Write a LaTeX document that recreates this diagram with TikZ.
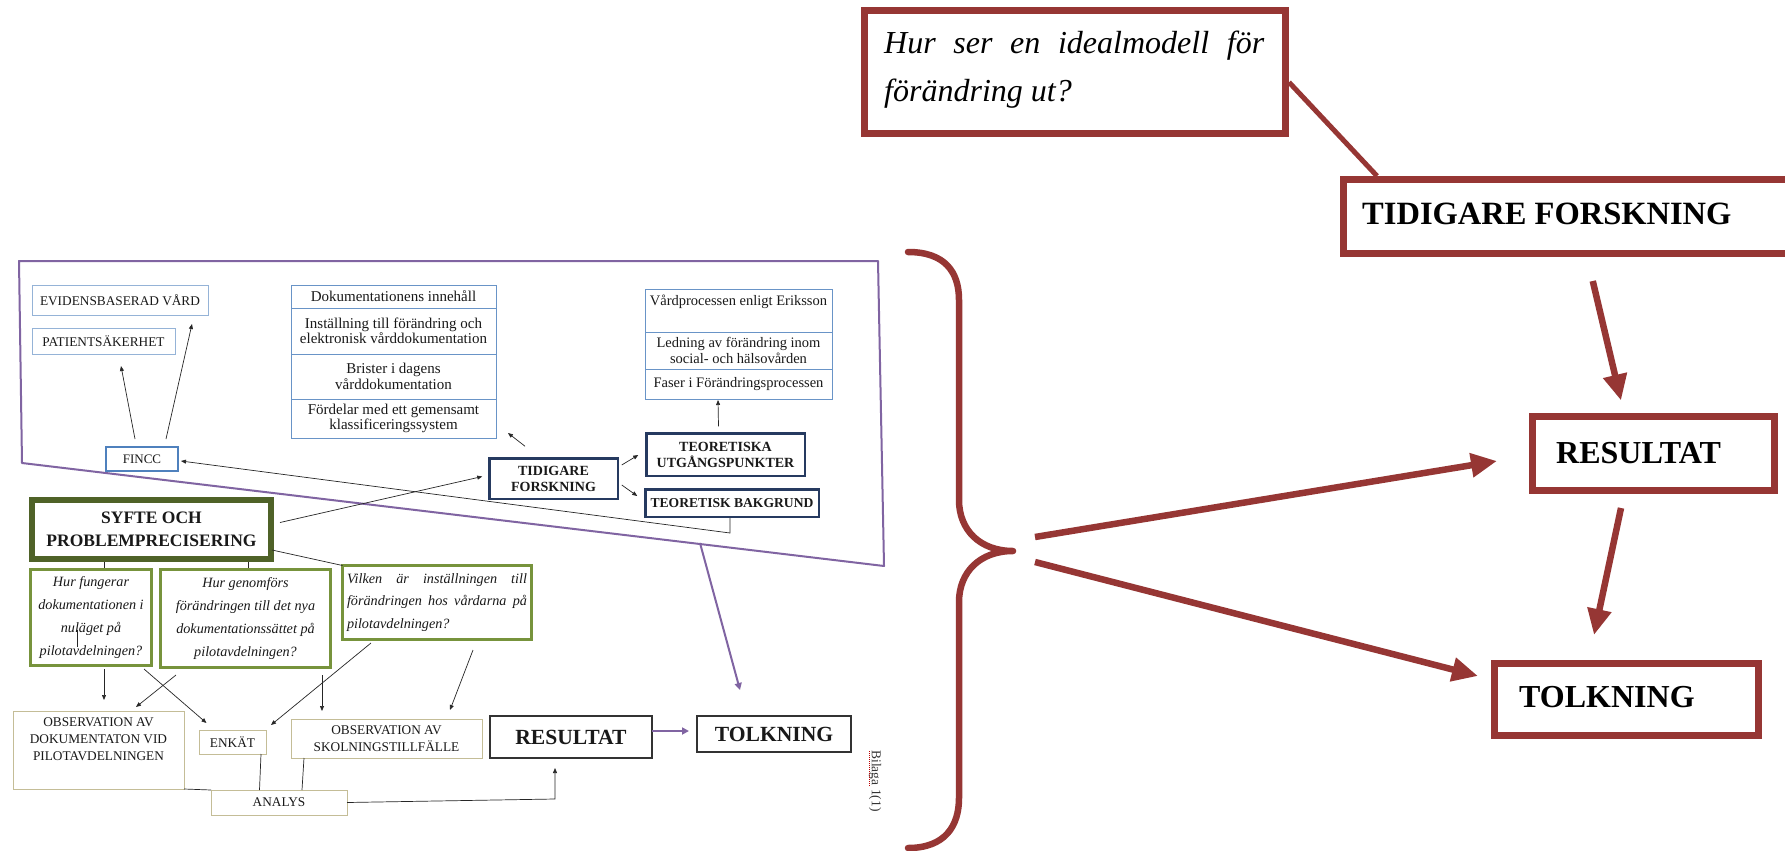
\documentclass[tikz,border=0pt]{standalone}
\usepackage{fontspec}
\setmainfont{Liberation Serif}
\usetikzlibrary{arrows.meta,calc}
\definecolor{dred}{RGB}{150,54,52}
\definecolor{purp}{RGB}{128,100,162}
\definecolor{lblue}{RGB}{149,179,215}
\definecolor{mblue}{RGB}{79,129,189}
\definecolor{navy}{RGB}{38,58,96}
\definecolor{olived}{RGB}{79,98,40}
\definecolor{olivel}{RGB}{119,147,60}
\definecolor{khaki}{RGB}{196,189,151}
\newcommand{\setfs}[2]{\fontsize{#1}{#2}\selectfont}
\newcommand{\boxat}[7]{\node[#6,minimum width={(#4)-(#2)},minimum height={(#5)-(#3)}] (#1) at ({((#2)+(#4))/2},{((#3)+(#5))/2}) {#7};}
\begin{document}
\begin{tikzpicture}[x=1pt,y=-1pt,
 bx/.style={draw,inner sep=0pt,outer sep=0pt,align=center,text=black!90},
 lbox/.style={bx,draw=lblue,line width=0.9pt,font=\setfs{13.3}{16}},
 tbox/.style={bx,draw=mblue!85,line width=1pt,font=\setfs{15}{15.5}},
 rtbox/.style={bx,draw=mblue!85,line width=1pt,font=\setfs{14.5}{15.5}},
 fbox/.style={bx,draw=mblue,line width=2pt,font=\setfs{13}{16}},
 nbox/.style={bx,draw=navy,line width=2.5pt,font=\bfseries\setfs{14}{16}},
 sbox/.style={bx,draw=olived,line width=6pt,font=\bfseries\setfs{17.5}{23.3}},
 qbox/.style={bx,draw=olivel,line width=3pt,font=\itshape\setfs{14.2}{22.9}},
 kbox/.style={bx,draw=khaki,line width=1pt,font=\setfs{13.3}{16.5}},
 bbox/.style={bx,draw=black!80,line width=1.3pt,font=\bfseries\setfs{21.6}{24}},
 rbox/.style={bx,draw=dred,line width=7pt},
 arr/.style={-{Triangle[length=5pt,width=4pt]},line width=0.7pt,black!85},
 ln/.style={line width=0.7pt,black!85},
 parr/.style={-{Triangle[length=7pt,width=7pt]},line width=2pt,purp},
 rarr/.style={-{Triangle[length=26pt,width=23pt]},line width=6.5pt,dred},
]
\useasboundingbox (0,0) rectangle (1785,851);
\fill[white] (0,0) rectangle (1785,851);

% ---------- left diagram ----------
\draw[purp,line width=2pt,line join=round] (19,261) -- (878,261) -- (884,566) -- (22,463) -- cycle;
\coordinate (pb) at (700,543);

\boxat{evid}{32}{285}{208}{315}{lbox}{EVIDENSBASERAD VÅRD}
\boxat{pat}{32}{328}{175}{354}{lbox}{PATIENTSÄKERHET}
\boxat{fincc}{106}{447}{178}{471}{fbox}{FINCC}

\boxat{t1}{291}{285}{496}{308}{tbox}{Dokumentationens innehåll}
\boxat{t2}{291}{308}{496}{354}{tbox}{Inställning till förändring och\\elektronisk vårddokumentation}
\boxat{t3}{291}{354}{496}{399}{tbox}{Brister i dagens\\vårddokumentation}
\boxat{t4}{291}{399}{496}{438}{tbox}{Fördelar med ett gemensamt\\klassificeringssystem}

\boxat{r1}{645}{289}{832}{332}{rtbox}{}
\node[anchor=north,font=\setfs{14.5}{15.5},text=black!90,inner sep=0pt] (r1t) at ($(r1.north)+(0,6)$) {Vårdprocessen enligt Eriksson};
\boxat{r2}{645}{332}{832}{369}{rtbox}{Ledning av förändring inom\\social- och hälsovården}
\boxat{r3}{645}{369}{832}{399}{rtbox}{Faser i Förändringsprocessen}

\boxat{tidl}{489.25}{458.25}{617.75}{498.75}{nbox}{TIDIGARE\\FORSKNING}
\boxat{teou}{646.25}{433.25}{804.75}{475.75}{nbox}{TEORETISKA\\UTGÅNGSPUNKTER}
\boxat{teob}{645.25}{489.25}{818.75}{516.75}{nbox,font=\bfseries\setfs{13.6}{16}}{TEORETISK BAKGRUND}

\boxat{syfte}{32}{500}{271}{559}{sbox}{SYFTE OCH\\PROBLEMPRECISERING}
\boxat{q1}{30.5}{569.5}{151.5}{665.5}{qbox}{Hur fungerar\\dokumentationen i\\nuläget på\\pilotavdelningen?}
\boxat{q2}{160.5}{569.5}{330.5}{667.5}{qbox}{Hur genomförs\\förändringen till det nya\\dokumentationssättet på\\pilotavdelningen?}
\boxat{q3}{342.5}{565.5}{531.5}{639.5}{qbox,align=left}{\makebox[180pt][s]{Vilken är inställningen till}\\\makebox[180pt][s]{förändringen hos vårdarna på}\\pilotavdelningen?}

\boxat{obsd}{13}{711}{184}{789}{kbox}{}
\node[anchor=north,font=\setfs{13.3}{17},align=center,inner sep=0pt,text=black!90] (obsdt) at ($(obsd.north)+(0,6)$) {OBSERVATION AV\\DOKUMENTATON VID\\PILOTAVDELNINGEN};
\boxat{enk}{199}{730}{266}{754}{kbox}{ENKÄT}
\boxat{obss}{291}{719}{482}{758}{kbox}{OBSERVATION AV\\SKOLNINGSTILLFÄLLE}
\boxat{analys}{211}{790}{347}{815}{kbox}{ANALYS}
\boxat{resl}{490}{716}{652}{758}{bbox}{RESULTAT}
\boxat{tolkl}{697}{716}{851}{752}{bbox}{TOLKNING}
\node[rotate=-90,font=\setfs{13.5}{15},text=black!80,inner sep=0pt] (bil) at (875,781) {Bilaga 1(1)};
\draw[red!75!black,densely dotted,line width=1pt] ($(bil.center)+(-6,-30)$) -- ++(0,36);

% stray mark in q1
\draw[ln,line width=1pt] ($(q1.center)+(-14,12)$) -- ++(0,17);

% connectors
\draw[arr] ($(fincc.north)+(-7,-8)$) -- ($(pat.south)+(17.5,12)$);
\draw[arr] ($(fincc.north)+(24,-8)$) -- ($(evid.south)+(72,9)$);
\draw[arr] ($(teob.south)+(-2,1.25)$) -- ++(0,15) -- ($(fincc.east)+(3,2)$);
\draw[arr] ($(syfte.east)+(9,-7)$) -- ($(tidl.west)+(-7,-2)$);
\draw[arr] ($(tidl.north)+(-28.5,-12)$) -- ($(t4.south east)+(12,-5)$);
\draw[arr] ($(tidl.east)+(4,-13.5)$) -- ($(teou.west)+(-8,0.5)$);
\draw[arr] ($(tidl.east)+(4,6.5)$) -- ($(teob.west)+(-8,-7)$);
\draw[arr] ($(teou.north)+(-7,-7)$) -- ($(r3.south)+(-20.5,1)$);
\draw[ln] ($(syfte.south)+(-47.5,3)$) -- ++(0,6);
\draw[ln] ($(syfte.south)+(96.5,3)$) -- ++(0,6);
\draw[ln] ($(syfte.east)+(1,20.5)$) -- (q3.north west);
\draw[arr] ($(q1.south)+(13,3.5)$) -- ($(obsd.north)+(5.5,-11)$);
\draw[arr] ($(q1.south)+(53,3.5)$) -- ($(enk.north)+(-26,-7)$);
\draw[arr] ($(q2.south)+(-69.5,7.5)$) -- ($(obsd.north)+(37.5,-4)$);
\draw[arr] ($(q2.south)+(76.5,7.5)$) -- ($(obss.north)+(-64.5,-8)$);
\draw[arr] ($(q3.south)+(-66,3.5)$) -- ($(enk.north east)+(5,-5)$);
\draw[arr] ($(q3.south)+(36,10.5)$) -- ($(obss.north)+(63.5,-9)$);
\draw[ln] (obsd.south east) -- (analys.north west);
\draw[ln] ($(enk.south)+(28.5,0)$) -- ($(analys.north)+(-19.5,0)$);
\draw[ln] ($(obss.south)+(-82.5,0)$) -- ($(analys.north)+(23,0)$);
\draw[arr] (analys.east) -- ($(resl.south)+(-16,41)$) -- ($(resl.south)+(-16,10)$);
\draw[parr] ($(resl.east)+(0,-6)$) -- ($(tolkl.west)+(-8,-3)$);
\draw[parr] (pb) -- ($(tolkl.north)+(-34,-26)$);

% ---------- right part ----------
\boxat{idq}{864.5}{11}{1285.5}{133.5}{rbox}{}
\node[anchor=base west,font=\itshape\setfs{32}{32},inner sep=0pt] (idqa) at (884,54) {\makebox[380pt][s]{Hur ser en idealmodell för}};
\node[anchor=base west,font=\itshape\setfs{32}{32},inner sep=0pt] (idqb) at (884,101) {förändring ut?};
\boxat{tidr}{1343.5}{179.5}{1800}{253.5}{rbox}{}
\node[anchor=base west,font=\bfseries\setfs{32.5}{32.5},inner sep=0pt] (tidrt) at (1362,224) {TIDIGARE FORSKNING};
\boxat{resr}{1532.5}{416.5}{1774.5}{490.5}{rbox}{}
\node[anchor=base west,font=\bfseries\setfs{32}{32},inner sep=0pt] (resrt) at (1556,463) {RESULTAT};
\boxat{tolkr}{1494.5}{663.5}{1758.5}{735.5}{rbox}{}
\node[anchor=base west,font=\bfseries\setfs{32}{32},inner sep=0pt] (tolkrt) at (1519,707) {TOLKNING};

\draw[dred,line width=5pt] ($(idq.east)+(3.5,10)$) -- ($(tidr.north west)+(33.5,-3.5)$);

\coordinate (btip) at (1013,551);
\draw[dred,line width=6.5pt,line cap=round,line join=round]
  (908,252) .. controls (945,252) and (959,272) .. (959,300) -- (959,500)
  .. controls (959,530) and (980,551) .. (btip)
  .. controls (980,551) and (959,572) .. (959,602) -- (959,798)
  .. controls (959,826) and (945,848) .. (908,848);

\draw[rarr] ($(btip)+(22,-14)$) -- ($(resr.west)+(-35.5,7.5)$);
\draw[rarr] ($(btip)+(22,11)$) -- ($(tolkr.west)+(-16.5,-23.5)$);
\draw[rarr] ($(tidr.south)+(21,27.5)$) -- ($(resr.north)+(-32.5,-16)$);
\draw[rarr] ($(resr.south)+(-32.5,17.5)$) -- ($(tolkr.north)+(-32.5,-28.5)$);
\end{tikzpicture}
\end{document}
